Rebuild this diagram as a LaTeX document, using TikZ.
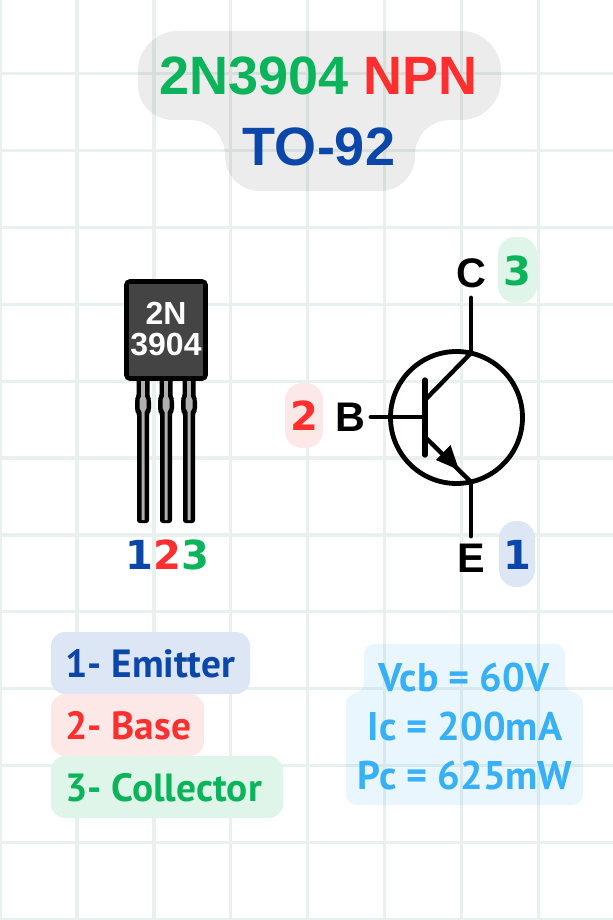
\documentclass[tikz,border=0pt]{standalone}
\usepackage{fontspec}
\setmainfont{Liberation Sans}
\newfontfamily\plexlike{PT Sans}
\newfontfamily\digitfont{DejaVu Sans}
\definecolor{gridc}{HTML}{E9F1EF}
\definecolor{grn}{HTML}{0BB45A}
\definecolor{redc}{HTML}{FF2F2F}
\definecolor{blu}{HTML}{0A47A9}
\definecolor{sky}{HTML}{38B0F6}
\definecolor{bodyc}{HTML}{444444}
\definecolor{leadc}{HTML}{B0B0B0}
\definecolor{blupanel}{HTML}{DCE6F4}
\definecolor{redpanel}{HTML}{FDE8E8}
\definecolor{grnpanel}{HTML}{DFF5E9}
\tikzset{
  x=0.75pt,y=-0.75pt,
  gridline/.style={draw=gridc,line width=2.4pt},
  panel/.style={rounded corners=10.5pt},
  badge/.style={rounded corners=13pt},
  txt/.style={inner sep=0pt,anchor=center,font=\bfseries},
  titletxt/.style={txt,font=\fontsize{40.5}{40.5}\selectfont\bfseries},
  listtxt/.style={txt,anchor=west,font=\plexlike\fontsize{29.5}{29.5}\selectfont\bfseries},
  spectxt/.style={txt,text=sky,font=\plexlike\fontsize{30}{30}\selectfont\bfseries},
  sym/.style={txt,font=\fontsize{31}{31}\selectfont\bfseries},
  digit/.style={txt,font=\digitfont\fontsize{30}{30}\selectfont\bfseries},
  pkgtxt/.style={txt,text=white,font=\fontsize{24}{24}\selectfont\bfseries},
  wire/.style={line width=3.7pt,draw=black,line cap=round},
  thinwire/.style={line width=3.3pt,draw=black},
}
\begin{document}
\begin{tikzpicture}
\useasboundingbox (0,0) rectangle (613,920);
\fill[white] (0,0) rectangle (613,920);
% grid
\foreach \k in {0,...,7} \draw[gridline] ({\k*76.95},0) -- ({\k*76.95},920);
\foreach \k in {0,...,11} \draw[gridline] (0,{73.5+\k*76.9}) -- (613,{73.5+\k*76.9});
% title panel
\fill[black,fill opacity=.075] (320,31) [rounded corners=30pt] -- (501,31) -- (501,120) [rounded corners=26pt] -- (415,120) -- (415,191) -- (225,191) -- (225,120) -- (138,120) [rounded corners=30pt] -- (138,31) [sharp corners] -- cycle;
\node[titletxt] (title1) at (318.5,76) {\textcolor{grn}{2N3904} \textcolor{redc}{NPN}};
\node[titletxt,text=blu] (title2) at (319,147) {TO-92};
% package leads
\foreach \n/\xx in {a/143,b/166,c/189}{
  \fill[black,rounded corners=2pt] (\xx-6,523) -- (\xx-6,413) -- (\xx-8,411) -- (\xx-8,399) -- (\xx-6.5,397) -- (\xx-6.5,378) -- (\xx+6.5,378) -- (\xx+6.5,397) -- (\xx+8,399) -- (\xx+8,411) -- (\xx+6,413) -- (\xx+6,523) -- cycle;
  \fill[leadc] (\xx-1.5,520) -- (\xx-1.5,412) -- (\xx-3.5,408) -- (\xx-3.5,400) -- (\xx-1.8,396) -- (\xx-1.8,381) -- (\xx+1.8,381) -- (\xx+1.8,396) -- (\xx+3.5,400) -- (\xx+3.5,408) -- (\xx+1.5,412) -- (\xx+1.5,520) -- cycle;
}
% package body
\filldraw[fill=bodyc,draw=black,line width=3.4pt,rounded corners=2.5pt] (126.5,281.5) rectangle (205.5,378.5);
\node[pkgtxt] (pkg1) at (166,313.5) {2N};
\node[pkgtxt] (pkg2) at (166,344.5) {3904};
% pin numbers
\node[digit,text=blu] (p1) at (139,555) {1};
\node[digit,text=redc] (p2) at (167,555) {2};
\node[digit,text=grn] (p3) at (195,555) {3};
% symbol
\coordinate (cen) at (456.5,417.5);
\coordinate (ctop) at (471,298);
\coordinate (cj) at (471,353);
\coordinate (ej) at (471,482);
\coordinate (ebot) at (471,536);
\coordinate (bl) at (371,417);
\coordinate (bj) at (425,417);
\coordinate (bt) at (425,380);
\coordinate (bb) at (425,455);
\coordinate (cb) at (425,400);
\coordinate (eb) at (425,437);
\draw[line width=3.6pt] (cen) circle (66);
\draw[wire] (ctop) -- (cj);
\draw[wire] (ej) -- (ebot);
\draw[wire] (bl) -- (bj);
\draw[thinwire] (cb) -- (cj);
\draw[thinwire] (eb) -- (ej);
\draw[line width=4pt,line cap=round] (bt) -- (bb);
\fill[black] (450.5,445) -- (436,460) -- (459,470) -- cycle;
\node[sym] (lc) at (471,273) {C};
\node[sym] (lb) at (350,417) {B};
\node[sym] (le) at (471,558) {E};
% badges
\fill[grnpanel,badge] (498,237) rectangle (537,303);
\node[digit,text=grn] (n3) at (517,271) {3};
\fill[redpanel,badge] (285,383) rectangle (323,448);
\node[digit,text=redc] (n2) at (304,416) {2};
\fill[blupanel,badge] (499,521) rectangle (535,587);
\node[digit,text=blu] (n1) at (517,555) {1};
% list
\fill[blupanel,panel] (51,632) rectangle (250,694);
\node[listtxt,text=blu] (l1) at (65,664) {1- Emitter};
\fill[redpanel,panel] (51,694) rectangle (204,756);
\node[listtxt,text=redc] (l2) at (65,726) {2- Base};
\fill[grnpanel,panel] (51,756) rectangle (283,818);
\node[listtxt,text=grn] (l3) at (65,788) {3- Collector};
% specs
\fill[sky,fill opacity=.11,rounded corners=8pt] (450,644) -- (565,644) -- (565,693) -- (583,693) -- (583,805) -- (346,805) -- (346,693) -- (364,693) -- (364,644) -- cycle;
\node[spectxt] (s1) at (464,677) {Vcb = 60V};
\node[spectxt] (s2) at (465,726) {Ic = 200mA};
\node[spectxt] (s3) at (465,775) {Pc = 625mW};
\end{tikzpicture}
\end{document}
